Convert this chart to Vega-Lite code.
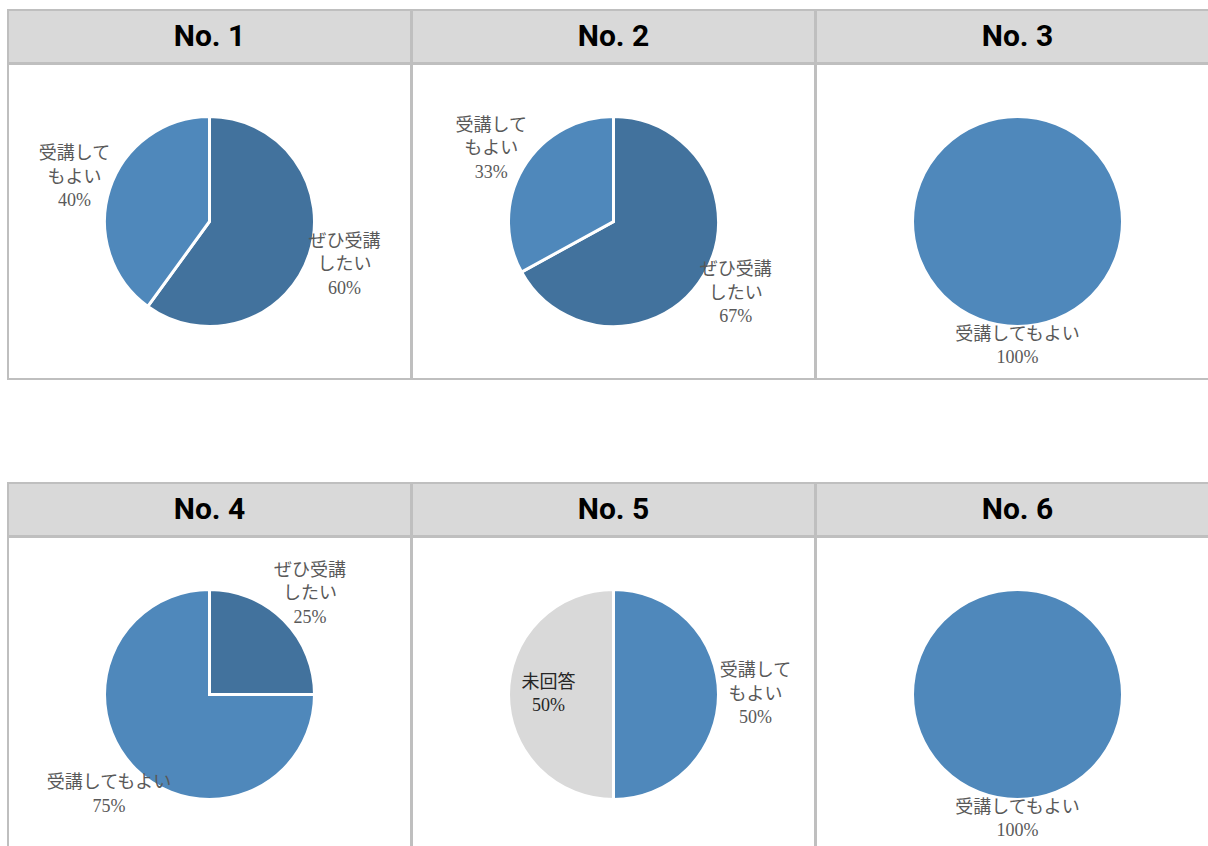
{
  "$schema": "https://vega.github.io/schema/vega-lite/v6.json",
  "padding": {"left": 7, "top": 9, "right": 0, "bottom": 0},
  "background": "white",
  "datasets": {
    "slices": [
      {"panel": "No. 1", "category": "ぜひ受講したい", "share": 60, "label": ["ぜひ受講", "したい", "60%"]},
      {"panel": "No. 1", "category": "受講してもよい", "share": 40, "label": ["受講して", "もよい", "40%"]},
      {"panel": "No. 2", "category": "ぜひ受講したい", "share": 67, "label": ["ぜひ受講", "したい", "67%"]},
      {"panel": "No. 2", "category": "受講してもよい", "share": 33, "label": ["受講して", "もよい", "33%"]},
      {"panel": "No. 3", "category": "受講してもよい", "share": 100, "label": ["受講してもよい", "100%"]},
      {"panel": "No. 4", "category": "ぜひ受講したい", "share": 25, "label": ["ぜひ受講", "したい", "25%"]},
      {"panel": "No. 4", "category": "受講してもよい", "share": 75, "label": ["受講してもよい", "75%"]},
      {"panel": "No. 5", "category": "受講してもよい", "share": 50, "label": ["受講して", "もよい", "50%"]},
      {"panel": "No. 5", "category": "未回答", "share": 50, "label": ["未回答", "50%"]},
      {"panel": "No. 6", "category": "受講してもよい", "share": 100, "label": ["受講してもよい", "100%"]}
    ]
  },
  "data": {"name": "slices"},
  "config": {
    "view": {"stroke": "#bfbfbf", "strokeWidth": 2}
  },
  "spacing": 102,
  "vconcat": [
    {
      "spacing": -4,
      "hconcat": [
        {"spacing": -4, "vconcat": [
          {"width": 403, "height": 53, "view": {"fill": "#d9d9d9", "stroke": "#bfbfbf", "strokeWidth": 2},
           "transform": [{"filter": "datum.panel == 'No. 1'"}, {"aggregate": [{"op": "count", "as": "n"}], "groupby": ["panel"]}],
           "mark": {"type": "text", "font": "Roboto", "fontSize": 30, "fontWeight": "bold", "color": "#000000"},
           "encoding": {"text": {"field": "panel"}}},
          {"width": 403, "height": 315, "view": {"fill": "white", "stroke": "#bfbfbf", "strokeWidth": 2},
           "transform": [{"filter": "datum.panel == 'No. 1'"}],
           "encoding": {"theta": {"field": "share", "type": "quantitative", "stack": true}},
           "layer": [
             {"mark": {"type": "arc", "outerRadius": 105, "stroke": "white", "strokeWidth": 3},
              "encoding": {"color": {"field": "category", "type": "nominal", "legend": null, "scale": {"domain": ["ぜひ受講したい", "受講してもよい", "未回答"], "range": ["#42729d", "#4f88bb", "#d9d9d9"]}}}},
             {"mark": {"type": "text", "font": "Liberation Serif, Noto Sans CJK JP", "fontSize": 18, "lineHeight": 23.5, "dy": {"expr": "-(length(datum.label) - 1) * 11.75"}},
              "encoding": {"text": {"field": "label"}, "detail": {"field": "category"}, "radius": {"value": {"expr": "datum.category == '未回答' ? 65 : 142"}}, "color": {"condition": {"test": "datum.category == '未回答'", "value": "#262626"}, "value": "#595959"}}}
           ]}
        ]},
        {"spacing": -4, "vconcat": [
          {"width": 403, "height": 53, "view": {"fill": "#d9d9d9", "stroke": "#bfbfbf", "strokeWidth": 2},
           "transform": [{"filter": "datum.panel == 'No. 2'"}, {"aggregate": [{"op": "count", "as": "n"}], "groupby": ["panel"]}],
           "mark": {"type": "text", "font": "Roboto", "fontSize": 30, "fontWeight": "bold", "color": "#000000"},
           "encoding": {"text": {"field": "panel"}}},
          {"width": 403, "height": 315, "view": {"fill": "white", "stroke": "#bfbfbf", "strokeWidth": 2},
           "transform": [{"filter": "datum.panel == 'No. 2'"}],
           "encoding": {"theta": {"field": "share", "type": "quantitative", "stack": true}},
           "layer": [
             {"mark": {"type": "arc", "outerRadius": 105, "stroke": "white", "strokeWidth": 3},
              "encoding": {"color": {"field": "category", "type": "nominal", "legend": null, "scale": {"domain": ["ぜひ受講したい", "受講してもよい", "未回答"], "range": ["#42729d", "#4f88bb", "#d9d9d9"]}}}},
             {"mark": {"type": "text", "font": "Liberation Serif, Noto Sans CJK JP", "fontSize": 18, "lineHeight": 23.5, "dy": {"expr": "-(length(datum.label) - 1) * 11.75"}},
              "encoding": {"text": {"field": "label"}, "detail": {"field": "category"}, "radius": {"value": {"expr": "datum.category == '未回答' ? 65 : 142"}}, "color": {"condition": {"test": "datum.category == '未回答'", "value": "#262626"}, "value": "#595959"}}}
           ]}
        ]},
        {"spacing": -4, "vconcat": [
          {"width": 403, "height": 53, "view": {"fill": "#d9d9d9", "stroke": "#bfbfbf", "strokeWidth": 2},
           "transform": [{"filter": "datum.panel == 'No. 3'"}, {"aggregate": [{"op": "count", "as": "n"}], "groupby": ["panel"]}],
           "mark": {"type": "text", "font": "Roboto", "fontSize": 30, "fontWeight": "bold", "color": "#000000"},
           "encoding": {"text": {"field": "panel"}}},
          {"width": 403, "height": 315, "view": {"fill": "white", "stroke": "#bfbfbf", "strokeWidth": 2},
           "transform": [{"filter": "datum.panel == 'No. 3'"}],
           "encoding": {"theta": {"field": "share", "type": "quantitative", "stack": true}},
           "layer": [
             {"mark": {"type": "arc", "outerRadius": 105, "stroke": "white", "strokeWidth": 3},
              "encoding": {"color": {"field": "category", "type": "nominal", "legend": null, "scale": {"domain": ["ぜひ受講したい", "受講してもよい", "未回答"], "range": ["#42729d", "#4f88bb", "#d9d9d9"]}}}},
             {"mark": {"type": "text", "font": "Liberation Serif, Noto Sans CJK JP", "fontSize": 18, "lineHeight": 23.5, "dy": {"expr": "-(length(datum.label) - 1) * 11.75"}},
              "encoding": {"text": {"field": "label"}, "detail": {"field": "category"}, "radius": {"value": {"expr": "datum.category == '未回答' ? 65 : 125"}}, "color": {"condition": {"test": "datum.category == '未回答'", "value": "#262626"}, "value": "#595959"}}}
           ]}
        ]}
      ]
    },
    {
      "spacing": -4,
      "hconcat": [
        {"spacing": -4, "vconcat": [
          {"width": 403, "height": 53, "view": {"fill": "#d9d9d9", "stroke": "#bfbfbf", "strokeWidth": 2},
           "transform": [{"filter": "datum.panel == 'No. 4'"}, {"aggregate": [{"op": "count", "as": "n"}], "groupby": ["panel"]}],
           "mark": {"type": "text", "font": "Roboto", "fontSize": 30, "fontWeight": "bold", "color": "#000000"},
           "encoding": {"text": {"field": "panel"}}},
          {"width": 403, "height": 315, "view": {"fill": "white", "stroke": "#bfbfbf", "strokeWidth": 2},
           "transform": [{"filter": "datum.panel == 'No. 4'"}],
           "encoding": {"theta": {"field": "share", "type": "quantitative", "stack": true}},
           "layer": [
             {"mark": {"type": "arc", "outerRadius": 105, "stroke": "white", "strokeWidth": 3},
              "encoding": {"color": {"field": "category", "type": "nominal", "legend": null, "scale": {"domain": ["ぜひ受講したい", "受講してもよい", "未回答"], "range": ["#42729d", "#4f88bb", "#d9d9d9"]}}}},
             {"mark": {"type": "text", "font": "Liberation Serif, Noto Sans CJK JP", "fontSize": 18, "lineHeight": 23.5, "dy": {"expr": "-(length(datum.label) - 1) * 11.75"}},
              "encoding": {"text": {"field": "label"}, "detail": {"field": "category"}, "radius": {"value": {"expr": "datum.category == '未回答' ? 65 : 142"}}, "color": {"condition": {"test": "datum.category == '未回答'", "value": "#262626"}, "value": "#595959"}}}
           ]}
        ]},
        {"spacing": -4, "vconcat": [
          {"width": 403, "height": 53, "view": {"fill": "#d9d9d9", "stroke": "#bfbfbf", "strokeWidth": 2},
           "transform": [{"filter": "datum.panel == 'No. 5'"}, {"aggregate": [{"op": "count", "as": "n"}], "groupby": ["panel"]}],
           "mark": {"type": "text", "font": "Roboto", "fontSize": 30, "fontWeight": "bold", "color": "#000000"},
           "encoding": {"text": {"field": "panel"}}},
          {"width": 403, "height": 315, "view": {"fill": "white", "stroke": "#bfbfbf", "strokeWidth": 2},
           "transform": [{"filter": "datum.panel == 'No. 5'"}],
           "encoding": {"theta": {"field": "share", "type": "quantitative", "stack": true}},
           "layer": [
             {"mark": {"type": "arc", "outerRadius": 105, "stroke": "white", "strokeWidth": 3},
              "encoding": {"color": {"field": "category", "type": "nominal", "legend": null, "scale": {"domain": ["ぜひ受講したい", "受講してもよい", "未回答"], "range": ["#42729d", "#4f88bb", "#d9d9d9"]}}}},
             {"mark": {"type": "text", "font": "Liberation Serif, Noto Sans CJK JP", "fontSize": 18, "lineHeight": 23.5, "dy": {"expr": "-(length(datum.label) - 1) * 11.75"}},
              "encoding": {"text": {"field": "label"}, "detail": {"field": "category"}, "radius": {"value": {"expr": "datum.category == '未回答' ? 65 : 142"}}, "color": {"condition": {"test": "datum.category == '未回答'", "value": "#262626"}, "value": "#595959"}}}
           ]}
        ]},
        {"spacing": -4, "vconcat": [
          {"width": 403, "height": 53, "view": {"fill": "#d9d9d9", "stroke": "#bfbfbf", "strokeWidth": 2},
           "transform": [{"filter": "datum.panel == 'No. 6'"}, {"aggregate": [{"op": "count", "as": "n"}], "groupby": ["panel"]}],
           "mark": {"type": "text", "font": "Roboto", "fontSize": 30, "fontWeight": "bold", "color": "#000000"},
           "encoding": {"text": {"field": "panel"}}},
          {"width": 403, "height": 315, "view": {"fill": "white", "stroke": "#bfbfbf", "strokeWidth": 2},
           "transform": [{"filter": "datum.panel == 'No. 6'"}],
           "encoding": {"theta": {"field": "share", "type": "quantitative", "stack": true}},
           "layer": [
             {"mark": {"type": "arc", "outerRadius": 105, "stroke": "white", "strokeWidth": 3},
              "encoding": {"color": {"field": "category", "type": "nominal", "legend": null, "scale": {"domain": ["ぜひ受講したい", "受講してもよい", "未回答"], "range": ["#42729d", "#4f88bb", "#d9d9d9"]}}}},
             {"mark": {"type": "text", "font": "Liberation Serif, Noto Sans CJK JP", "fontSize": 18, "lineHeight": 23.5, "dy": {"expr": "-(length(datum.label) - 1) * 11.75"}},
              "encoding": {"text": {"field": "label"}, "detail": {"field": "category"}, "radius": {"value": {"expr": "datum.category == '未回答' ? 65 : 125"}}, "color": {"condition": {"test": "datum.category == '未回答'", "value": "#262626"}, "value": "#595959"}}}
           ]}
        ]}
      ]
    }
  ]
}
